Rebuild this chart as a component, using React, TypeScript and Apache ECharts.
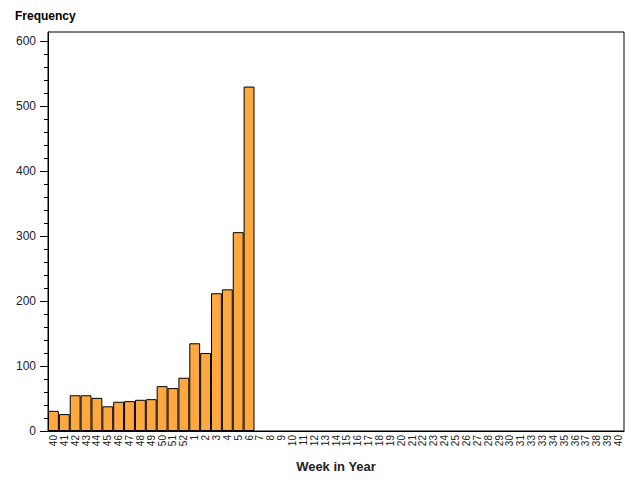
import React, { useEffect, useRef } from "react";
import * as echarts from "echarts";

const weeks: string[] = [
  "40", "41", "42", "43", "44", "45", "46", "47", "48", "49", "50", "51", "52",
  "1", "2", "3", "4", "5", "6", "7", "8", "9", "10", "11", "12", "13", "14", "15",
  "16", "17", "18", "19", "20", "21", "22", "23", "24", "25", "26", "27", "28", "29",
  "30", "31", "33", "33", "34", "35", "36", "37", "38", "39", "40",
];

const frequency: (number | null)[] = [
  31, 26, 55, 55, 51, 38, 45, 46, 48, 49, 69, 66, 82,
  135, 120, 212, 218, 306, 530,
];

const yMaxFrame = 614;
const yLabelMax = 600;

export default function App() {
  const ref = useRef<HTMLDivElement>(null);
  useEffect(() => {
    if (!ref.current) return;
    const chart = echarts.init(ref.current, null, { renderer: "svg" });
    const font = "'Liberation Sans', Arial, sans-serif";
    const plotH = 480 - 32 - 49;
    const top2 = 32 + ((yMaxFrame - yLabelMax) / yMaxFrame) * plotH;
    chart.setOption({
      animation: false,
      backgroundColor: "#fff",
      textStyle: { fontFamily: font },
      title: {
        text: "Frequency",
        left: 10,
        top: 5,
        textStyle: { fontSize: 12, fontWeight: "bold", color: "#000", fontFamily: font },
      },
      grid: [
        { left: 48, right: 16, top: 32, bottom: 49, show: true, borderColor: "#000", borderWidth: 1, containLabel: false },
        { left: 48, right: 16, top: top2, bottom: 49, show: false, containLabel: false },
      ],
      xAxis: [
        {
          type: "category",
          gridIndex: 0,
          data: weeks,
          boundaryGap: true,
          axisLine: { show: true, lineStyle: { color: "#000", width: 1 } },
          axisTick: { show: false },
          axisLabel: { interval: 0, rotate: 90, fontSize: 10, color: "#222", margin: 4, fontFamily: font },
          name: "Week in Year",
          nameLocation: "middle",
          nameGap: 29,
          nameTextStyle: { fontSize: 13, fontWeight: "bold", color: "#222", fontFamily: font },
        },
        {
          type: "category",
          gridIndex: 1,
          data: weeks,
          show: false,
        },
      ],
      yAxis: [
        {
          type: "value",
          gridIndex: 0,
          min: 0,
          max: yMaxFrame,
          axisLine: { show: true, lineStyle: { color: "#000" } },
          axisTick: { show: false },
          axisLabel: { show: false },
          splitLine: { show: false },
        },
        {
          type: "value",
          gridIndex: 1,
          min: 0,
          max: yLabelMax,
          interval: 100,
          axisLine: { show: false },
          axisTick: { show: true, length: 8, lineStyle: { color: "#000" } },
          minorTick: { show: true, splitNumber: 5, length: 4, lineStyle: { color: "#000" } },
          axisLabel: { fontSize: 12, color: "#222", margin: 12, fontFamily: font },
          splitLine: { show: false },
          minorSplitLine: { show: false },
        },
      ],
      series: [
        {
          type: "bar",
          xAxisIndex: 0,
          yAxisIndex: 0,
          data: frequency,
          barCategoryGap: "0%",
          itemStyle: { color: "#FFA840", borderColor: "#000", borderWidth: 1 },
        },
      ],
    });
    return () => chart.dispose();
  }, []);
  return <div ref={ref} style={{ width: 640, height: 480, position: "absolute", left: 0, top: 0 }} />;
}
